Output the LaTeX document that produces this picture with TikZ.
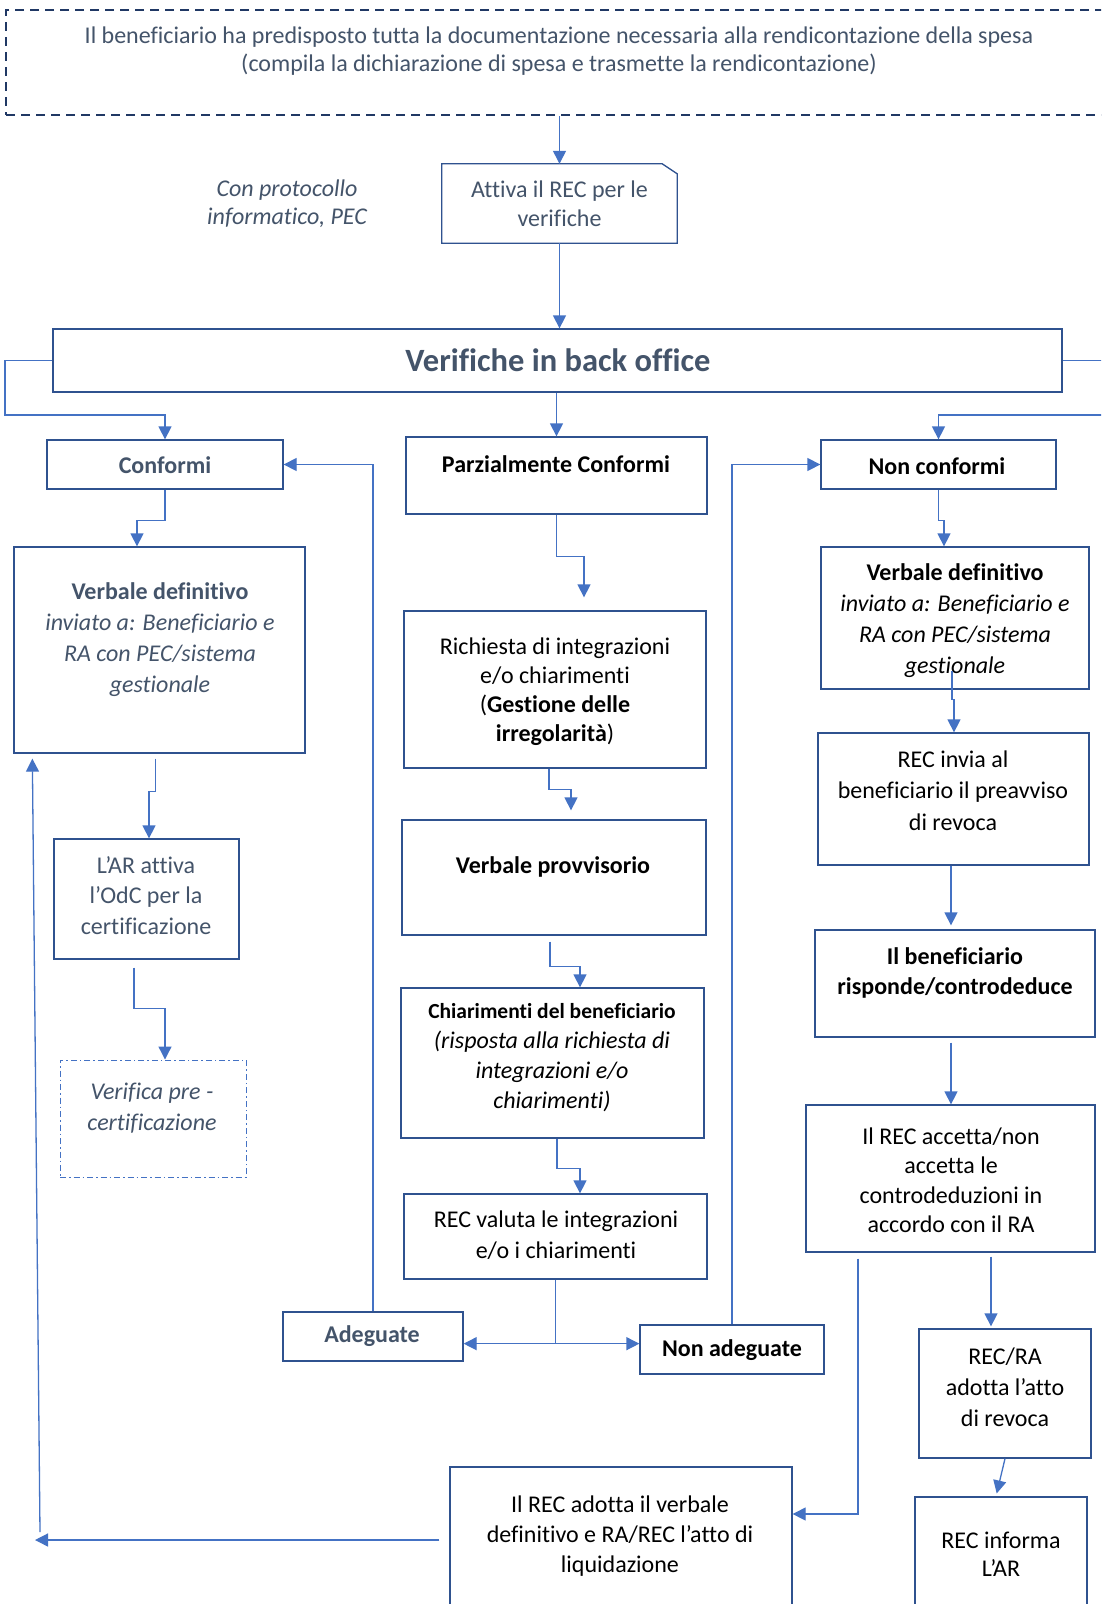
\documentclass[tikz,border=0pt]{standalone}
\usepackage{fontspec}
\setmainfont{Carlito}[Ligatures=NoCommon]
\usetikzlibrary{arrows.meta,fit}
\definecolor{slate}{HTML}{44546A}
\definecolor{bordc}{HTML}{2F528F}
\definecolor{linec}{HTML}{4472C4}
\definecolor{navy}{HTML}{203864}
\newcommand\mkbox[6][]{\node[boxs,#1,fit={(#3,#4)(#5,#6)}] (#2) {};}
\begin{document}
\begin{tikzpicture}[x=1pt,y=-1pt,
  boxs/.style={draw=bordc, line width=1.3pt, inner sep=0pt},
  ln/.style={draw=linec, line width=1.3pt},
  arr/.style={ln, -{Triangle[length=13pt,width=13pt]}},
  txt/.style={align=center, font=\fontsize{24}{30}\selectfont, text=black, inner sep=0pt},
  stxt/.style={txt, text=slate}]
\path[use as bounding box, fill=white] (0,0) rectangle (1101,1604);
\clip (0,0) rectangle (1101,1604);

% ---------- boxes ----------
\node[draw=navy, line width=2.5pt, dash pattern=on 9pt off 6pt, inner sep=0pt,
      fit={(6,10)(1110,115)}] (top) {};
\node[stxt, font=\fontsize{24}{28.5}\selectfont] (top-t) at (559,51)
  {Il beneficiario ha predisposto tutta la documentazione necessaria alla rendicontazione della spesa\\
   (compila la dichiarazione di spesa e trasmette la rendicontazione)};

\node[stxt, font=\fontsize{24}{28.5}\itshape] (prot) at (287,203.5) {Con protocollo\\informatico, PEC};

\node[inner sep=0pt, fit={(442,164)(677,243)}] (attiva) {};
\draw[draw=bordc, line width=1.3pt] (attiva.south west) -- (attiva.north west)
  -- ([xshift=-15pt]attiva.north east) -- ([yshift=-10pt]attiva.north east)
  -- (attiva.south east) -- cycle;
\node[stxt, font=\fontsize{24}{29}\selectfont] (attiva-t) at (559.5,203.5) {Attiva il REC per le\\verifiche};

\mkbox{verif}{53}{329}{1062}{392}
\node[stxt, font=\fontsize{32.5}{38}\bfseries] (verif-t) at (558,360) {Verifiche in back office};

\mkbox{conf}{47}{440}{283}{489}
\node[stxt, font=\fontsize{24}{30}\bfseries] (conf-t) at (165,465) {Conformi};

\mkbox{parz}{406}{437}{707}{514}
\node[txt, font=\fontsize{24}{30}\bfseries] (parz-t) at (556,464.5) {Parzialmente Conformi};

\mkbox{nonconf}{821}{440}{1056}{489}
\node[txt, font=\fontsize{24}{30}\bfseries] (nonconf-t) at (937,466) {Non conformi};

\mkbox{vdl}{14}{547}{305}{753}
\node[stxt, font=\fontsize{24}{31}\selectfont] (vdl-t) at (160,640)
  {\textbf{Verbale definitivo}\\\textit{inviato a: Beneficiario e}\\\textit{RA con PEC/sistema}\\\textit{gestionale}};

\mkbox{lar}{54}{839}{239}{959}
\node[stxt, font=\fontsize{24}{30.5}\selectfont] (lar-t) at (146,895.5) {L’AR attiva\\l’OdC per la\\certificazione};

\node[draw=linec, line width=1pt, dash pattern=on 6pt off 3pt on 1.5pt off 3pt, inner sep=0pt,
      fit={(60,1060)(246,1177)}] (verpre) {};
\node[stxt, font=\fontsize{24}{31}\itshape] (verpre-t) at (152,1108.5) {Verifica pre -\\certificazione};

\mkbox{rich}{404}{611}{706}{768}
\node[txt, font=\fontsize{24}{29}\selectfont] (rich-t) at (555,691.5)
  {Richiesta di integrazioni\\e/o chiarimenti\\(\textbf{Gestione delle}\\\textbf{irregolarità})};

\mkbox{vprov}{402}{820}{706}{935}
\node[txt, font=\fontsize{24}{30}\bfseries] (vprov-t) at (553,867) {Verbale provvisorio};

\mkbox{chiar}{401}{988}{704}{1138}
\node[txt, font=\fontsize{24}{30}\selectfont] (chiar-t) at (552,1057.5)
  {{\fontsize{21.5}{30}\selectfont\textbf{Chiarimenti del beneficiario}}\\\textit{(risposta alla richiesta di}\\\textit{integrazioni e/o}\\\textit{chiarimenti)}};

\mkbox{recval}{404}{1194}{707}{1279}
\node[txt, font=\fontsize{24}{31}\selectfont] (recval-t) at (556,1235.5) {REC valuta le integrazioni\\e/o i chiarimenti};

\mkbox{adeg}{283}{1312}{463}{1361}
\node[stxt, font=\fontsize{24}{30}\bfseries] (adeg-t) at (372,1336) {Adeguate};

\mkbox{nonad}{640}{1325}{824}{1374}
\node[txt, font=\fontsize{24}{30}\bfseries] (nonad-t) at (732,1350) {Non adeguate};

\mkbox{vdr}{821}{547}{1089}{689}
\node[txt, font=\fontsize{24}{31}\selectfont] (vdr-t) at (955,620.5)
  {\textbf{Verbale definitivo}\\\textit{inviato a: Beneficiario e}\\\textit{RA con PEC/sistema}\\\textit{gestionale}};

\mkbox{recinv}{818}{733}{1089}{865}
\node[txt, font=\fontsize{24}{31.5}\selectfont] (recinv-t) at (953,790.5) {REC invia al\\beneficiario il preavviso\\di revoca};

\mkbox{benef}{815}{930}{1095}{1037}
\node[txt, font=\fontsize{24}{30}\bfseries] (benef-t) at (955,973) {Il beneficiario\\risponde/controdeduce};

\mkbox{accetta}{806}{1105}{1095}{1252}
\node[txt, font=\fontsize{24}{29.5}\selectfont] (accetta-t) at (951,1180)
  {Il REC accetta/non\\accetta le\\controdeduzioni in\\accordo con il RA};

\mkbox{recra}{919}{1329}{1091}{1458}
\node[txt, font=\fontsize{24}{31}\selectfont] (recra-t) at (1005,1387) {REC/RA\\adotta l’atto\\di revoca};

\mkbox{recinf}{915}{1497}{1087}{1630}
\node[txt, font=\fontsize{24}{28}\selectfont] (recinf-t) at (1001,1554) {REC informa\\L’AR};

\mkbox{adotta}{450}{1467}{792}{1630}
\node[txt, font=\fontsize{24}{30}\selectfont] (adotta-t) at (620,1536)
  {Il REC adotta il verbale\\definitivo e RA/REC l’atto di\\liquidazione};

% ---------- connectors ----------
\draw[arr] (top.south -| attiva.north) -- (attiva.north);
\draw[arr] (attiva.south) -- (attiva.south |- verif.north);
\draw[arr] (verif.west) -| (5,415) -| (conf.north);
\draw[arr] (verif.east) -| (1110,415) -| (nonconf.north);
\draw[arr] (verif.south -| parz.north) -- (parz.north);

\draw[arr] (conf.south) -- ++(0,31) -| ([xshift=-22.5pt]vdl.north);
\draw[arr] ([xshift=-4pt,yshift=-5pt]vdl.south) -- ++(0,33) -| ([xshift=2.5pt]lar.north);
\draw[arr] ([xshift=-12.5pt,yshift=-8pt]lar.south) -- ++(0,41) -| ([xshift=12pt]verpre.north);

\draw[arr, shorten >=13pt] (parz.south) -- ++(0,42) -| ([xshift=29pt]rich.north);
\draw[arr, shorten >=9pt] ([xshift=-6pt]rich.south) -- ++(0,21) -| ([xshift=17pt]vprov.north);
\draw[arr] ([xshift=-4pt,yshift=-6pt]vprov.south) -- ++(0,25) -| ([xshift=27.5pt]chiar.north);
\draw[arr] ([xshift=4.5pt]chiar.south) -- ++(0,30) -| ([xshift=24.5pt]recval.north);

\draw[ln] (recval.south) -- ++(0,64) coordinate (split);
\draw[arr] (split) -- (split -| adeg.east);
\draw[arr] (split) -- (split -| nonad.west);
\draw[arr] (adeg.north) |- (conf.east);
\draw[arr] (nonad.north) |- (nonconf.west);

\draw[arr] (nonconf.south) -- ++(0,31) -| ([xshift=-11pt]vdr.north);
\draw[arr] ([xshift=-3pt,yshift=19pt]vdr.south) -- ++(0,29) -| ([xshift=0.5pt]recinv.north);
\draw[arr, shorten >=4pt] ([xshift=-2.5pt]recinv.south) -- ([xshift=-2.5pt]recinv.south |- benef.north);
\draw[arr] ([xshift=-4pt,yshift=-5pt]benef.south) -- ([xshift=-4pt]benef.south |- accetta.north);
\draw[arr] ([xshift=-92.5pt,yshift=-6pt]accetta.south) |- ([yshift=34.5pt]adotta.east);
\draw[arr, shorten >=2pt] ([xshift=40.5pt,yshift=-4pt]accetta.south) -- ([xshift=-14pt]recra.north);
\draw[arr, shorten >=3pt] (recra.south) -- ([xshift=-5pt]recinf.north);

\coordinate (lend) at (35,1540);
\coordinate (lstart) at (40,1532);
\draw[arr] ([xshift=-10pt,yshift=8.5pt]adotta.west) -- (lend);
\draw[arr] (lstart) -- ([xshift=19pt,yshift=-5pt]vdl.south west);
\end{tikzpicture}
\end{document}
